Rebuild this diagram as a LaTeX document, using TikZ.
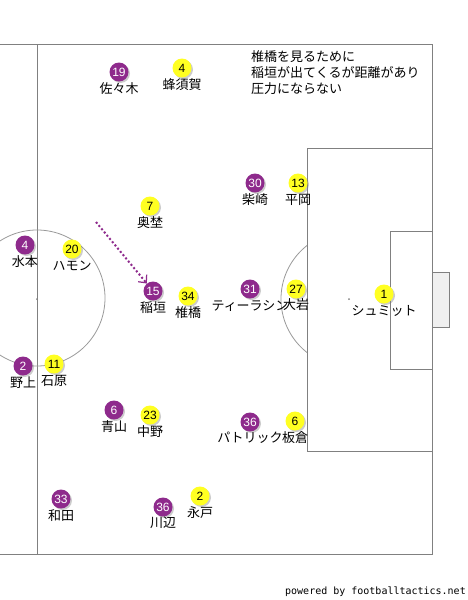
\documentclass[tikz,border=0pt]{standalone}
\usepackage{fontspec}
\newfontfamily\jp{Noto Sans CJK JP}
\newfontfamily\numf{Liberation Sans}
\newfontfamily\monof{DejaVu Sans Mono}
\usetikzlibrary{arrows.meta,shadows}
\definecolor{pur}{HTML}{8E2A8C}
\definecolor{yel}{HTML}{FFFF22}
\definecolor{fl}{HTML}{808080}
\definecolor{goalfill}{HTML}{F0F0F0}
\tikzset{
  field/.style={draw=fl, line width=1pt},
  plr/.style={circle, minimum size=19pt, inner sep=0pt,
    font=\numf\fontsize{12}{12}\selectfont,
    drop shadow={shadow xshift=1.5pt, shadow yshift=-1.5pt, opacity=0.4}},
  pp/.style={plr, fill=pur, text=white},
  yp/.style={plr, fill=yel, text=black},
  nm/.style={inner sep=0pt, font=\jp\fontsize{13}{13}\selectfont, anchor=base},
  runarrow/.style={draw=pur, line width=2pt, dash pattern=on 2pt off 2.2pt,
    -{Straight Barb[length=6pt,width=11pt,line width=1.2pt]}}
}
\begin{document}
\begin{tikzpicture}[x=1pt,y=-1pt]
\useasboundingbox (0,0) rectangle (468,600);
% field
\draw[field] (0,44) -- (432,44) -- (432,554) -- (0,554);
\draw[field] (37,44) -- (37,554);
\draw[draw=fl!80, line width=0.8pt] (37,298) circle[radius=68];
\fill[fl] (37,299) circle[radius=1];
\draw[field] (307,148) rectangle (432,451);
\draw[field] (390,231) rectangle (432,369);
\draw[field, fill=goalfill] (432,272) rectangle (449,327);
\fill[fl] (349,299) circle[radius=1];
\begin{scope}
\clip (200,100) rectangle (307,500);
\draw[draw=fl!80, line width=0.8pt] (349,299) circle[radius=68];
\end{scope}
% note
\node[anchor=north west, align=left, inner sep=0pt, font=\jp\fontsize{13}{16}\selectfont] (note) at (251,50)
 {椎橋を見るために\\稲垣が出てくるが距離があり\\圧力にならない};
% players
\node[pp] (p19) at (119,72) {19};  \node[nm] (n19) at (119,93) {佐々木};
\node[yp] (y4) at (182,68) {4};    \node[nm] (ny4) at (182,89) {蜂須賀};
\node[yp] (y7) at (150,206) {7};   \node[nm] (ny7) at (150,227) {奥埜};
\node[pp] (p30) at (255,183) {30}; \node[nm] (n30) at (255,204) {柴崎};
\node[yp] (y13) at (298,183) {13}; \node[nm] (ny13) at (298,204) {平岡};
\node[pp] (p4) at (25,245) {4};    \node[nm] (n4) at (25,266) {水本};
\node[yp] (y20) at (72,249) {20};  \node[nm] (ny20) at (72,270) {ハモン};
\node[pp] (p15) at (153,291) {15}; \node[nm] (n15) at (153,312) {稲垣};
\node[yp] (y34) at (188,296) {34}; \node[nm] (ny34) at (188,317) {椎橋};
\node[pp] (p31) at (250,289) {31}; \node[nm] (n31) at (250,310) {ティーラシン};
\node[yp] (y27) at (296,289) {27}; \node[nm] (ny27) at (296,309) {大岩};
\node[yp] (y1) at (384,294) {1};   \node[nm] (ny1) at (384,315) {シュミット};
\node[pp] (p2) at (23,366) {2};    \node[nm] (n2) at (23,387) {野上};
\node[yp] (y11) at (54,364) {11};  \node[nm] (ny11) at (54,385) {石原};
\node[pp] (p6) at (114,410) {6};   \node[nm] (n6) at (114,431) {青山};
\node[yp] (y23) at (150,415) {23}; \node[nm] (ny23) at (150,436) {中野};
\node[pp] (p36a) at (250,422) {36};\node[nm] (n36a) at (250,442) {パトリック};
\node[yp] (y6) at (295,421) {6};   \node[nm] (ny6) at (295,442) {板倉};
\node[pp] (p33) at (61,499) {33};  \node[nm] (n33) at (61,520) {和田};
\node[pp] (p36b) at (163,507) {36};\node[nm] (n36b) at (163,527) {川辺};
\node[yp] (y2) at (200,496) {2};   \node[nm] (ny2) at (200,517) {永戸};
% run
\coordinate (runstart) at (96,222);
\draw[runarrow] (runstart) -- (p15);
% footer
\node[anchor=base east, inner sep=0pt, font=\monof\fontsize{10}{10}\selectfont] (foot) at (466,594) {powered by footballtactics.net};
\end{tikzpicture}
\end{document}
